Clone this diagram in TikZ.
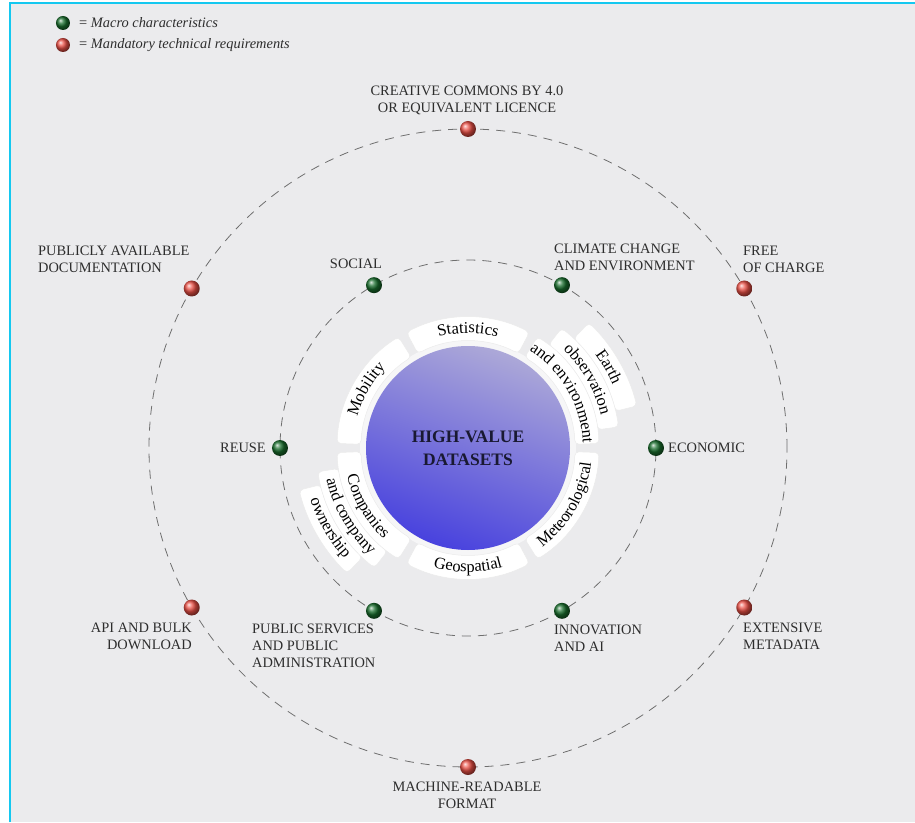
\documentclass[tikz,border=0pt]{standalone}
\usepackage{fontspec}
\setmainfont{Liberation Serif}
\usetikzlibrary{decorations.text,shadings}

\definecolor{bgGray}{RGB}{235,235,237}
\definecolor{frameCyan}{RGB}{20,200,240}
\definecolor{labelGray}{RGB}{45,45,45}
\definecolor{orbitGray}{RGB}{110,110,110}
\definecolor{hvdTop}{RGB}{172,168,216}
\definecolor{hvdBottom}{RGB}{72,66,222}
\definecolor{hvdText}{RGB}{25,25,50}
\definecolor{macroGreen}{RGB}{25,110,45}
\definecolor{reqRed}{RGB}{235,80,70}

\newcommand{\catfont}{\fontsize{16.5}{19}\selectfont}

\begin{document}
\begin{tikzpicture}[x=1pt, y=1pt,
  lbl/.style={inner sep=0pt, text=labelGray, font=\fontsize{14.4}{17}\selectfont},
  macro/.style={circle, minimum size=16pt, inner sep=0pt, ball color=macroGreen},
  req/.style={circle, minimum size=16pt, inner sep=0pt, ball color=reqRed},
  orbit/.style={draw=orbitGray, line width=0.8pt, dash pattern=on 9pt off 7pt},
  tabbox/.style={fill=white, draw=black!8, line width=0.5pt, rounded corners=4pt},
  arctext/.style={decorate, decoration={text along path, text align=center, text={#1}}}]
  \useasboundingbox (-468,-374) rectangle (447,448);
  \fill[white] (-468,-374) rectangle (447,448);
  \fill[bgGray] (-458,-374) rectangle (447,445);
  \draw[frameCyan, line width=2pt] (-458,-374) -- (-458,445) -- (447,445);

  % legend
  \node[macro, minimum size=14pt] (legmacro) at (-405,425) {};
  \node[req, minimum size=14pt] (legreq) at (-405,403) {};
  \node[lbl, anchor=west] (legmacrotext) at (-389,425) {= \textit{Macro characteristics}};
  \node[lbl, anchor=west] (legreqtext) at (-389,403) {= \textit{Mandatory technical requirements}};

  % orbits
  \draw[orbit] (0,0) circle[radius=319];
  \draw[orbit] (0,0) circle[radius=188];

  % centre
  \fill[white!55!bgGray] (0,0) circle[radius=108];
  \shade[top color=hvdTop, bottom color=hvdBottom, shading angle=-20] (0,0) circle[radius=102];
  \node[font=\bfseries\fontsize{17.5}{23}\selectfont, text=hvdText, align=center] (hvd) at (0,0) {HIGH-VALUE\\DATASETS};

  % categories
  \draw[tabbox] (62:107) arc[start angle=62, end angle=118, radius=107] -- (118:131) arc[start angle=118, end angle=62, radius=131] -- cycle;
  \path[arctext={|\catfont|Statistics}] (124:115) arc[start angle=124, end angle=56, radius=115];

  \draw[tabbox] (122:107) arc[start angle=122, end angle=178, radius=107] -- (178:131) arc[start angle=178, end angle=122, radius=131] -- cycle;
  \path[arctext={|\catfont|Mobility}] (184:115) arc[start angle=184, end angle=116, radius=115];

  \draw[tabbox] (194:152) arc[start angle=194, end angle=226, radius=152] -- (226:174) arc[start angle=226, end angle=194, radius=174] -- cycle;
  \draw[tabbox] (189:131) arc[start angle=189, end angle=232, radius=131] -- (232:152) arc[start angle=232, end angle=189, radius=152] -- cycle;
  \draw[tabbox] (182:107) arc[start angle=182, end angle=238, radius=107] -- (238:131) arc[start angle=238, end angle=182, radius=131] -- cycle;
  \path[arctext={|\catfont|Companies}] (176:124) arc[start angle=176, end angle=244, radius=124];
  \path[arctext={|\catfont|and company}] (176:145) arc[start angle=176, end angle=244, radius=145];
  \path[arctext={|\catfont|ownership}] (176:166) arc[start angle=176, end angle=244, radius=166];

  \draw[tabbox] (242:107) arc[start angle=242, end angle=298, radius=107] -- (298:131) arc[start angle=298, end angle=242, radius=131] -- cycle;
  \path[arctext={|\catfont|Geospatial}] (236:124) arc[start angle=236, end angle=304, radius=124];

  \draw[tabbox] (302:107) arc[start angle=302, end angle=358, radius=107] -- (358:131) arc[start angle=358, end angle=302, radius=131] -- cycle;
  \path[arctext={|\catfont|Meteorological}] (296:124) arc[start angle=296, end angle=364, radius=124];

  \draw[tabbox] (14:152) arc[start angle=14, end angle=46, radius=152] -- (46:174) arc[start angle=46, end angle=14, radius=174] -- cycle;
  \draw[tabbox] (8:131) arc[start angle=8, end angle=52, radius=131] -- (52:152) arc[start angle=52, end angle=8, radius=152] -- cycle;
  \draw[tabbox] (2:107) arc[start angle=2, end angle=58, radius=107] -- (58:131) arc[start angle=58, end angle=2, radius=131] -- cycle;
  \path[arctext={|\catfont|Earth}] (64:158) arc[start angle=64, end angle=-4, radius=158];
  \path[arctext={|\catfont|observation}] (64:137) arc[start angle=64, end angle=-4, radius=137];
  \path[arctext={|\catfont|and environment}] (64:115) arc[start angle=64, end angle=-4, radius=115];

  % macro characteristics
  \node[macro] (economic) at (0:188) {};
  \node[macro] (climate) at (60:188) {};
  \node[macro] (social) at (120:188) {};
  \node[macro] (reuse) at (180:188) {};
  \node[macro] (publicservices) at (240:188) {};
  \node[macro] (innovation) at (300:188) {};

  % mandatory technical requirements
  \node[req] (freecharge) at (30:319) {};
  \node[req] (licence) at (90:319) {};
  \node[req] (documentation) at (150:319) {};
  \node[req] (apibulk) at (210:319) {};
  \node[req] (machinereadable) at (270:319) {};
  \node[req] (metadata) at (330:319) {};

  % labels
  \node[lbl, align=center] (licencetext) at (-1,348) {CREATIVE COMMONS BY 4.0\\OR EQUIVALENT LICENCE};
  \node[lbl, align=left, anchor=west] (documentationtext) at (-430,189) {PUBLICLY AVAILABLE\\DOCUMENTATION};
  \node[lbl] (socialtext) at (-112,184) {SOCIAL};
  \node[lbl, align=left, anchor=west] (climatetext) at (86,191) {CLIMATE CHANGE\\AND ENVIRONMENT};
  \node[lbl, align=left, anchor=west] (freechargetext) at (275,189) {FREE\\OF CHARGE};
  \node[lbl, anchor=east] (reusetext) at (-202,0) {REUSE};
  \node[lbl, anchor=west] (economictext) at (200,0) {ECONOMIC};
  \node[lbl, align=right, anchor=east] (apibulktext) at (-276,-188) {API AND BULK\\DOWNLOAD};
  \node[lbl, align=left, anchor=west] (publicservicestext) at (-216,-198) {PUBLIC SERVICES\\AND PUBLIC\\ADMINISTRATION};
  \node[lbl, align=left, anchor=west] (innovationtext) at (86,-190) {INNOVATION\\AND AI};
  \node[lbl, align=left, anchor=west] (metadatatext) at (275,-188) {EXTENSIVE\\METADATA};
  \node[lbl, align=center] (machinereadabletext) at (-1,-347) {MACHINE-READABLE\\FORMAT};
\end{tikzpicture}
\end{document}
